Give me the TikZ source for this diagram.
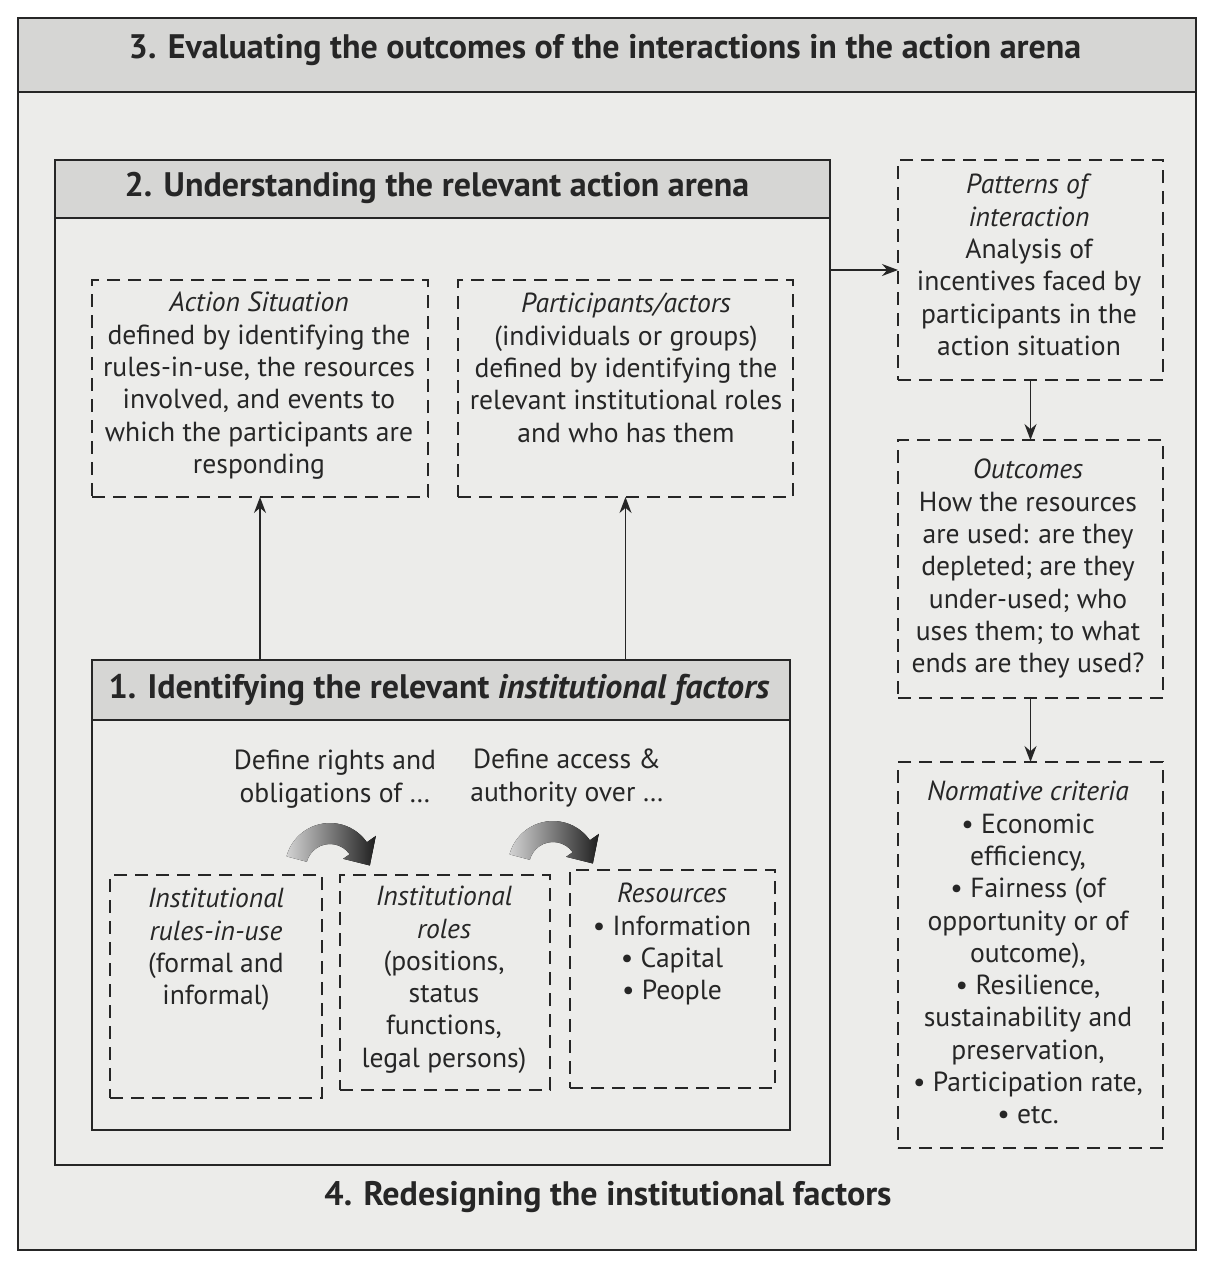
\documentclass[tikz,border=0pt]{standalone}
\usepackage{fontspec}
\setmainfont{PT Sans}
\usetikzlibrary{arrows.meta}
\definecolor{paper}{RGB}{236,236,234}
\definecolor{band}{RGB}{214,214,212}
\definecolor{ink}{RGB}{38,38,38}
\begin{document}
\begin{tikzpicture}[x=1pt,y=-1pt,
  frame/.style={draw=ink,line width=1.6pt,anchor=north west,inner sep=0pt,outer sep=0pt},
  dbox/.style={draw=ink,line width=2.8pt,dash pattern=on 13pt off 8pt,anchor=north west,inner sep=0pt,outer sep=0pt},
  txt/.style={align=center,inner sep=0pt,text=ink,font=\fontsize{27.6}{32.3}\selectfont,anchor=north},
  headtxt/.style={text=ink,font=\fontsize{34}{36}\selectfont\bfseries,inner sep=0pt},
  arr/.style={draw=ink,line width=1.5pt,-{Stealth[length=16pt,width=12pt]}},
  curv/.style={left color=gray!35,right color=black!88,draw=none}]
\useasboundingbox (0,0) rectangle (1206,1263);
\fill[white] (0,0) rectangle (1206,1263);
% outer frame 3
\node[frame,fill=paper,minimum width=1178pt,minimum height=1232pt] (f3) at (18,18) {};
\node[frame,fill=band,minimum width=1178pt,minimum height=74pt] (h3) at (18,18) {};
\node[headtxt] (t3) at (605,50) {3. Evaluating the outcomes of the interactions in the action arena};
% frame 2
\node[frame,minimum width=775pt,minimum height=1005pt] (f2) at (55,160) {};
\node[frame,fill=band,minimum width=775pt,minimum height=58pt] (h2) at (55,160) {};
\node[headtxt] (t2) at (437,188) {2. Understanding the relevant action arena};
% frame 1
\node[frame,fill=paper,minimum width=698pt,minimum height=470pt] (f1) at (92,660) {};
\node[frame,fill=band,minimum width=698pt,minimum height=60pt] (h1) at (92,660) {};
\node[headtxt] (t1) at (439,690) {1. Identifying the relevant \textit{institutional factors}};
% footer
\node[headtxt] (t4) at (608,1197) {4. Redesigning the institutional factors};
% dashed boxes in action arena
\node[dbox,minimum width=336pt,minimum height=217pt] (as) at (92,280) {};
\node[txt] (astxt) at (259,292) {\textit{Action Situation}\\defined by identifying the\\rules-in-use, the resources\\involved, and events to\\which the participants are\\responding};
\node[dbox,minimum width=335pt,minimum height=217pt] (pa) at (458,280) {};
\node[txt] (patxt) at (626,293) {\textit{Participants/actors}\\(individuals or groups)\\defined by identifying the\\relevant institutional roles\\and who has them};
% right column
\node[dbox,minimum width=265pt,minimum height=220pt] (pat) at (898,160) {};
\node[txt] (pattxt) at (1029,174) {\textit{Patterns of}\\\textit{interaction}\\Analysis of\\incentives faced by\\participants in the\\action situation};
\node[dbox,minimum width=265pt,minimum height=258pt] (out) at (898,440) {};
\node[txt] (outtxt) at (1028,459) {\textit{Outcomes}\\How the resources\\are used: are they\\depleted; are they\\under-used; who\\uses them; to what\\ends are they used?};
\node[dbox,minimum width=265pt,minimum height=386pt] (norm) at (898,762) {};
\node[txt] (normtxt) at (1028,781) {\textit{Normative criteria}\\• Economic\\efficiency,\\• Fairness (of\\opportunity or of\\outcome),\\• Resilience,\\sustainability and\\preservation,\\• Participation rate,\\• etc.};
% institutional factors
\node[txt] (def1) at (335,750) {Define rights and\\obligations of \dots};
\node[txt] (def2) at (567,749) {Define access \&\\authority over \dots};
\node[dbox,minimum width=212pt,minimum height=223pt] (rules) at (110,875) {};
\node[txt] (rulestxt) at (216,888) {\textit{Institutional}\\\textit{rules-in-use}\\(formal and\\informal)};
\node[dbox,minimum width=210pt,minimum height=215pt] (roles) at (340,875) {};
\node[txt] (rolestxt) at (444,886) {\textit{Institutional}\\\textit{roles}\\(positions,\\status\\functions,\\legal persons)};
\node[dbox,minimum width=205pt,minimum height=218pt] (res) at (570,870) {};
\node[txt] (restxt) at (672,883) {\textit{Resources}\\• Information\\• Capital\\• People};
% connectors
\draw[arr] (as.south |- h1.north) -- (as.south);
\draw[arr] (pa.south |- h1.north) -- (pa.south);
\draw[arr] (pat.west -| f2.east) -- (pat.west);
\draw[arr] (pat.south) -- (out.north);
\draw[arr] (out.south) -- (norm.north);
% curved shaded arrows
\foreach \cx/\cy in {330/868, 553/866}{
  \fill[curv] ({\cx+45*cos(195)},{\cy+45*sin(195)}) arc[start angle=195,end angle=325,radius=45]
     -- ({\cx+56*cos(325)},{\cy+56*sin(325)})
     -- ({\cx+40*cos(355)},{\cy+40*sin(355)+1})
     -- ({\cx+16*cos(325)},{\cy+16*sin(325)})
     -- ({\cx+24*cos(325)},{\cy+24*sin(325)})
     arc[start angle=325,end angle=195,radius=24] -- cycle;
}
\end{tikzpicture}
\end{document}
